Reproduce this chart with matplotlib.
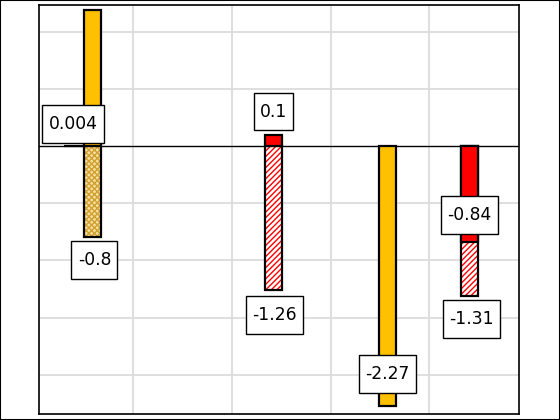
import matplotlib
matplotlib.use("Agg")
import matplotlib.pyplot as plt

# bars that are drawn solid (on top)
solid_x = [0.40, 0.59, 2.42, 3.58, 4.41]
solid_vals = [0.004, 1.19, 0.1, -2.27, -0.84]
solid_cols = ["gold", "gold", "red", "gold", "red"]
solid_labels = ["0.004", "", "0.1", "-2.27", "-0.84"]

# bars that are drawn hatched (behind)
hatch_x = [0.59, 2.42, 4.41]
hatch_vals = [-0.8, -1.26, -1.31]
hatch_cols = ["gold", "red", "red"]
hatch_labels = ["-0.8", "-1.26", "-1.31"]

yellow = "#FFC000"
red = "#FF0000"

fig = plt.figure(figsize=(5.6, 4.2), dpi=100)
ax = fig.add_axes([0.0705, 0.0143, 0.856, 0.974])
ax.set_xlim(0.049, 4.909)
ax.set_ylim(-2.343, 1.233)
ax.set_xticks([1, 2, 3, 4])
ax.set_yticks([-2, -1.5, -1, -0.5, 0.5, 1])
ax.grid(True, color="#dcdcdc", lw=1.3)
ax.set_axisbelow(True)
ax.tick_params(length=0, labelbottom=False, labelleft=False)
for s in ax.spines.values():
	s.set_linewidth(1.2)
ax.axhline(0, color="black", lw=1.0, zorder=2)

w = 0.172

# hatched bars
for x, v, c in zip(hatch_x, hatch_vals, hatch_cols):
	if c == "gold":
		ax.bar(x, v, w, color="#f7e0a0", edgecolor="#d0a030", hatch="xxxxxx", lw=0, zorder=3)
	else:
		ax.bar(x, v, w, color="white", edgecolor=red, hatch="//////", lw=0, zorder=3)
	ax.bar(x, v, w, fill=False, edgecolor="black", lw=1.6, zorder=4)

# solid bars
for x, v, c in zip(solid_x, solid_vals, solid_cols):
	fc = yellow if c == "gold" else red
	bw = 0.2 if abs(v) < 0.01 else w
	ax.bar(x, v, bw, color=fc, edgecolor="black", lw=1.6, zorder=5)

box = dict(boxstyle="square,pad=0.36", fc="white", ec="black", lw=1.0, mutation_aspect=1.6)

def put_label(x, v, txt, dy):
	ax.annotate(txt, (x, v), xytext=(0, dy), textcoords="offset pixels",
		ha="center", va="center", fontsize=12.3, bbox=box, zorder=6)

# label offsets in pixels (positive = up)
solid_dy = [21.5, 0, 23, 31.7, 27]
hatch_dy = [-22.5, -25, -23]

for x, v, t, d in zip(solid_x, solid_vals, solid_labels, solid_dy):
	if t:
		put_label(x - (0.01 if abs(v) < 0.01 else 0), v, t, d)
for x, v, t, d in zip(hatch_x, hatch_vals, hatch_labels, hatch_dy):
	put_label(x + 0.015, v, t, d)

# outer frame round the whole picture
fig.patches.append(plt.Rectangle((0, 0), 1, 1, transform=fig.transFigure,
	fill=False, edgecolor="black", lw=1.5))

fig.savefig("out.png", dpi=100)
